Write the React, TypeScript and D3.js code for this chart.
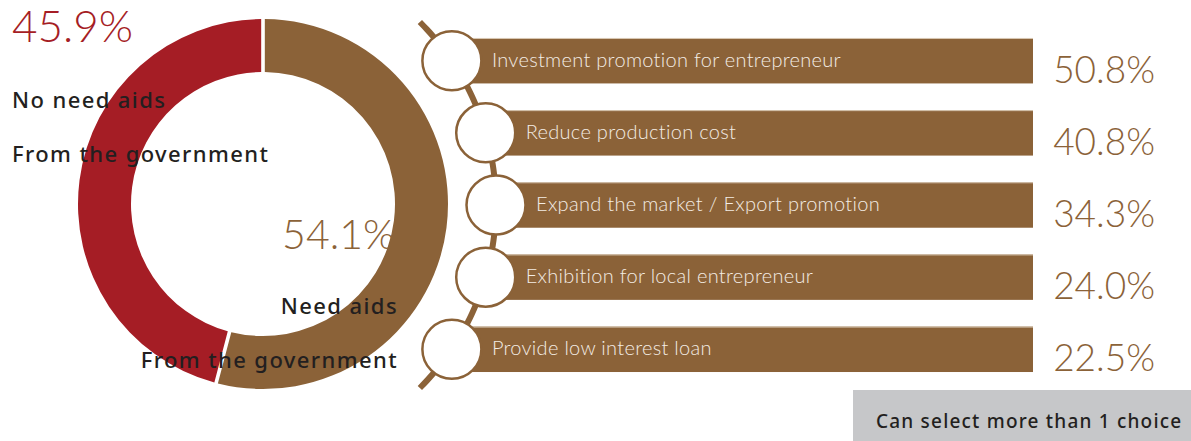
import * as d3 from 'd3';
import React from 'react';

// donut data
const donutLabels = ['Need aids', 'No need aids'];
const donutValues = [54.1, 45.9];

// measures data
const measures = [
  'Investment promotion for entrepreneur',
  'Reduce production cost',
  'Expand the market / Export promotion',
  'Exhibition for local entrepreneur',
  'Provide low interest loan',
];
const measureValues = [50.8, 40.8, 34.3, 24.0, 22.5];

const RED = '#a51d25';
const BROWN = '#8b6238';
const DARK = '#231f20';
const FONT = "'Noto Sans', 'Open Sans', sans-serif";
const LIGHT = "Lato, 'Noto Sans', sans-serif";

export default function App() {
  const width = 1191;
  const height = 441;

  // Donut
  const cx = 263;
  const cy = 204;
  const pie = d3
    .pie<number>()
    .sort(null)
    .value((d) => d)
    .padAngle(0.016);
  const arcs = pie(donutValues);
  const arc = d3.arc<d3.PieArcDatum<number>>().innerRadius(132).outerRadius(185);
  const colors = [BROWN, RED];

  // Rows
  const yScale = d3
    .scaleBand<string>()
    .domain(measures)
    .range([25, 385])
    .paddingInner(0.37)
    .paddingOuter(0.18);
  const barRight = 1033;

  // the beads sit on a large arc
  const acx = 238;
  const acy = 205;
  const R = 258;
  const xOnArc = (y: number) => acx + Math.sqrt(R * R - (y - acy) * (y - acy));
  const a0 = Math.asin((22 - acy) / R);
  const a1 = Math.asin((388 - acy) / R);
  const linePts = d3.range(0, 41).map((i) => {
    const a = a0 + ((a1 - a0) * i) / 40;
    return [acx + R * Math.cos(a), acy + R * Math.sin(a)] as [number, number];
  });
  const line = d3.line().curve(d3.curveBasis)(linePts) as string;

  return (
    <svg
      width={width}
      height={height}
      style={{ position: 'absolute', left: 0, top: 0, background: '#fff' }}
      fontFamily={FONT}
    >
      {/* donut */}
      <g transform={`translate(${cx},${cy})`}>
        {arcs.map((d, i) => (
          <path key={i} d={arc(d) as string} fill={colors[i]} />
        ))}
      </g>

      {/* donut labels */}
      <text x={12} y={42} fill={RED} fontSize={44} fontWeight={300} fontFamily={LIGHT}>
        {donutValues[1].toFixed(1)}%
      </text>
      <text x={12} y={108} fill={DARK} fontSize={22} fontWeight={500} letterSpacing={1.4}>
        {donutLabels[1]}
      </text>
      <text x={12} y={162} fill={DARK} fontSize={22} fontWeight={500} letterSpacing={1.4}>
        From the government
      </text>
      <text x={395} y={249} fill={BROWN} fontSize={41} fontWeight={300} fontFamily={LIGHT} textAnchor="end">
        {donutValues[0].toFixed(1)}%
      </text>
      <text x={398} y={314} fill={DARK} fontSize={22} fontWeight={500} letterSpacing={1.4} textAnchor="end">
        {donutLabels[0]}
      </text>
      <text x={398} y={368} fill={DARK} fontSize={22} fontWeight={500} letterSpacing={1.4} textAnchor="end">
        From the government
      </text>

      {/* connecting arc */}
      <path d={line} fill="none" stroke={BROWN} strokeWidth={6} />

      {/* bars */}
      {measures.map((m, i) => {
        const y0 = yScale(m) as number;
        const bh = yScale.bandwidth();
        const yc = y0 + bh / 2;
        const xc = xOnArc(yc);
        return (
          <g key={m}>
            <rect x={xc} y={y0} width={barRight - xc} height={bh} fill={BROWN} />
            <line x1={xc} x2={barRight} y1={y0 + 0.5} y2={y0 + 0.5} stroke="#d8c8b4" strokeWidth={1} />
            <circle cx={xc} cy={yc} r={29.5} fill="#fff" stroke={BROWN} strokeWidth={2.5} />
            <text x={xc + 40} y={yc + 6} fill="#f3ece4" fontSize={20} fontWeight={300} fontFamily={LIGHT} letterSpacing={0.3}>
              {m}
            </text>
            <text x={1155} y={yc + 22} fill={BROWN} fontSize={37} fontWeight={300} fontFamily={LIGHT} textAnchor="end">
              {measureValues[i].toFixed(1)}%
            </text>
          </g>
        );
      })}

      {/* note box */}
      <rect x={853} y={390} width={338} height={51} fill="#c6c7c9" />
      <text x={876} y={428} fill={DARK} fontSize={19} fontWeight={500} letterSpacing={1.2}>
        Can select more than 1 choice
      </text>
    </svg>
  );
}
